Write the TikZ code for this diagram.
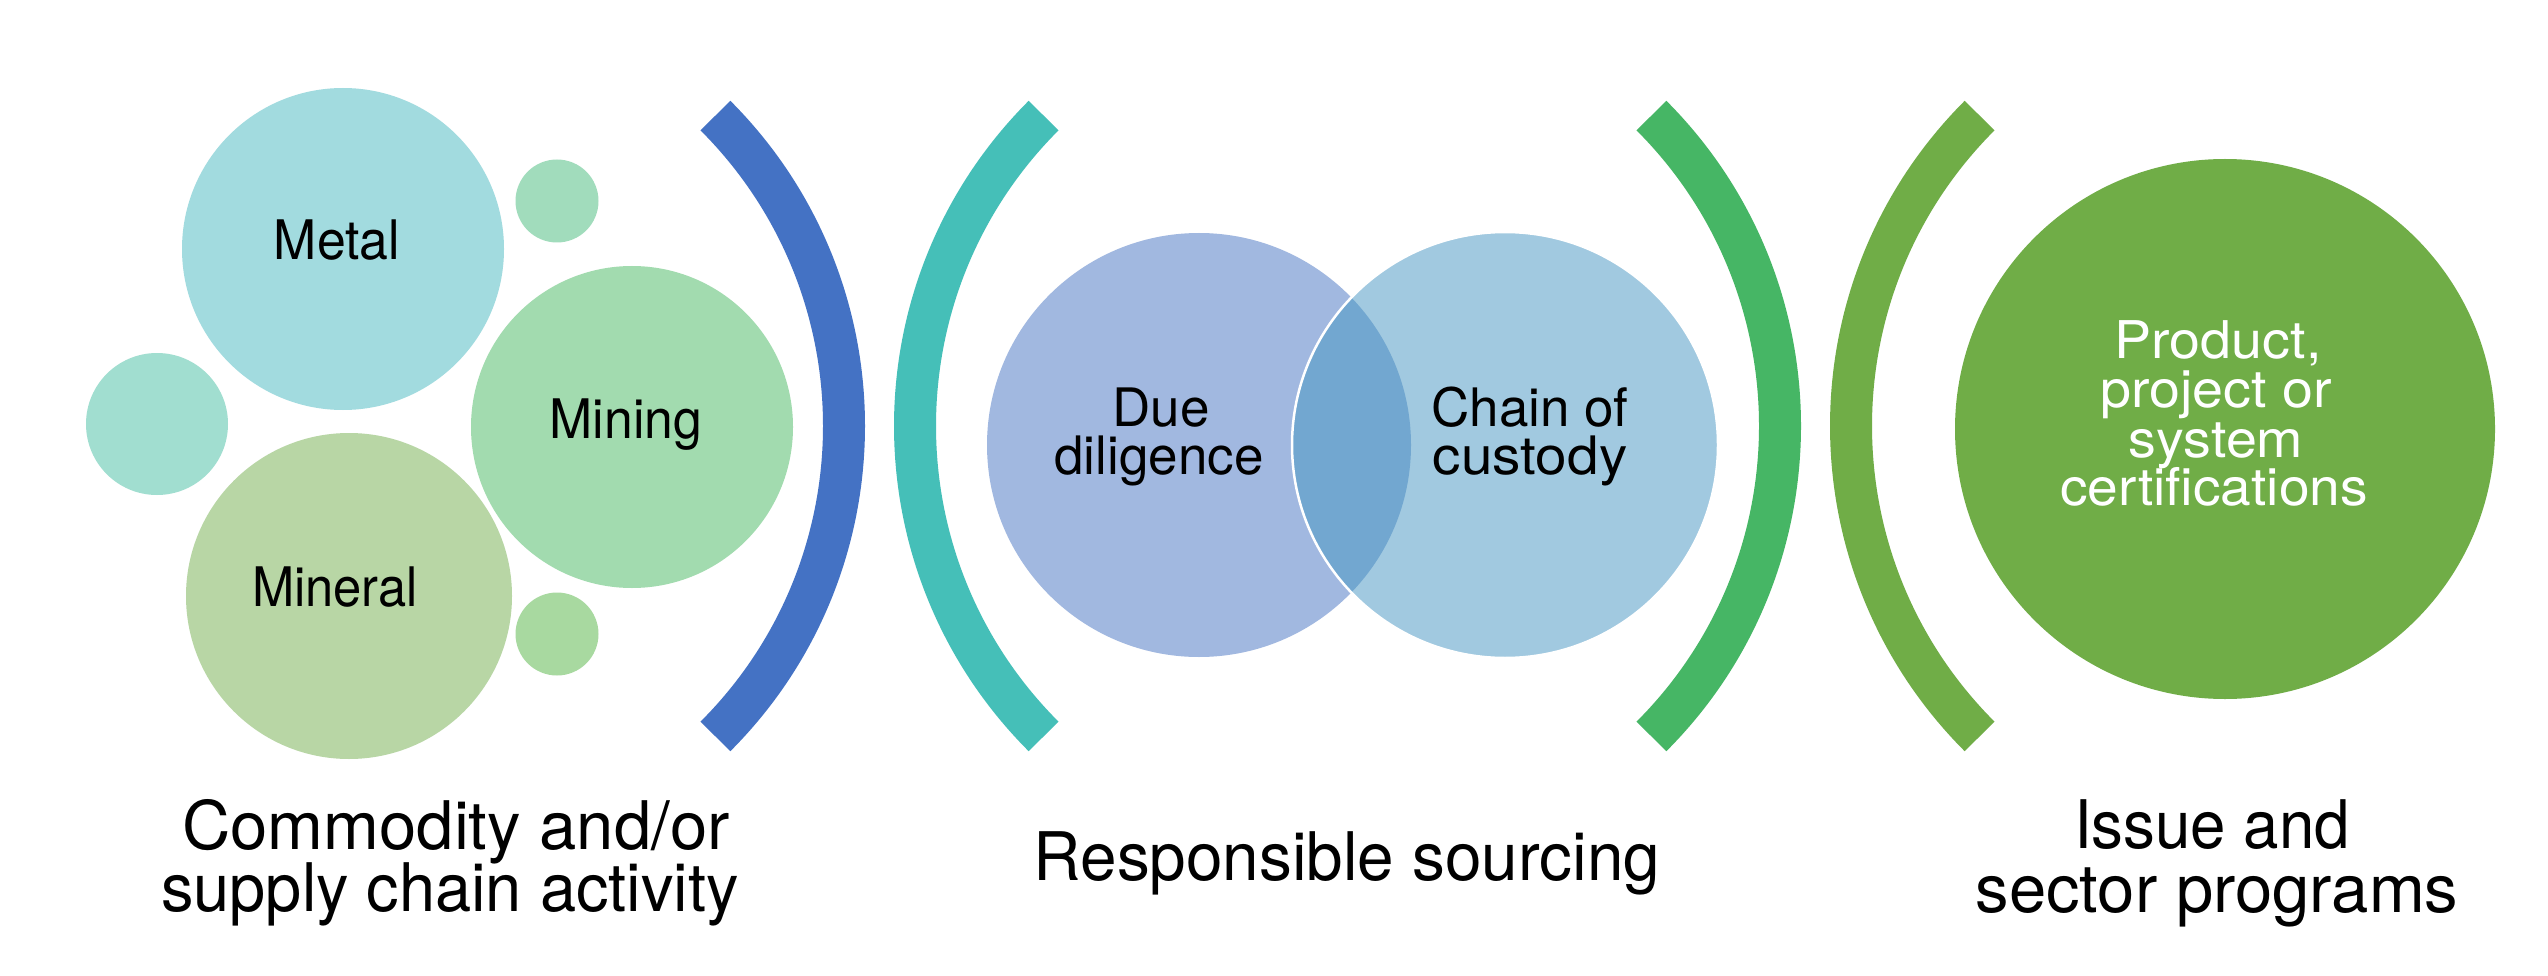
\documentclass[tikz,border=0pt]{standalone}
\usepackage{fontspec}
\setmainfont{TeX Gyre Heros}
\usepackage{graphicx}
\definecolor{cMetal}{HTML}{A2DBDF}
\definecolor{cMining}{HTML}{A2DBAF}
\definecolor{cMineral}{HTML}{B8D6A5}
\definecolor{cSmallL}{HTML}{A1DED0}
\definecolor{cSmallT}{HTML}{A1DCBC}
\definecolor{cSmallB}{HTML}{A8D9A0}
\definecolor{cBlue}{HTML}{4472C4}
\definecolor{cTeal}{HTML}{45BFB8}
\definecolor{cGreen}{HTML}{46B665}
\definecolor{cOlive}{HTML}{70AD47}
\definecolor{cDue}{HTML}{A1B8E0}
\definecolor{cChain}{HTML}{A1C9E0}
\definecolor{cLens}{HTML}{72A7D0}
\begin{document}
\begin{tikzpicture}[x=1pt,y=-1pt,
  bubble/.style={circle, inner sep=0pt, draw=none},
  bracketarc/.style={line width=42pt, line cap=butt},
  innerlbl/.style={font=\fontsize{54.5}{60}\selectfont, inner sep=0pt, anchor=base, text=black},
  vennlbl/.style={font=\fontsize{53}{58}\selectfont, inner sep=0pt, anchor=base, text=black},
  certlbl/.style={font=\fontsize{52}{58}\selectfont, inner sep=0pt, anchor=base, text=white},
  bottomlbl/.style={font=\fontsize{67}{72}\selectfont, inner sep=0pt, anchor=base, text=black}]
\useasboundingbox (0,0) rectangle (2548,976);
\fill[white] (0,0) rectangle (2548,976);

% left cluster
\node[bubble, fill=cMetal, minimum size=322pt] (metal) at (343,249) {};
\node[bubble, fill=cMining, minimum size=322pt] (mining) at (632,427) {};
\node[bubble, fill=cMineral, minimum size=326pt] (mineral) at (349,596) {};
\node[bubble, fill=cSmallL, minimum size=142pt] (smallL) at (157,424) {};
\node[bubble, fill=cSmallT, minimum size=83pt] (smallT) at (557,201) {};
\node[bubble, fill=cSmallB, minimum size=83pt] (smallB) at (557,634) {};

\node[innerlbl] (tmetal) at (337,260) {\scalebox{0.95}[1]{Metal}};
\node[innerlbl] (tmining) at (626,438) {\scalebox{0.95}[1]{Mining}};
\node[innerlbl] (tmineral) at (335,606) {\scalebox{0.93}[1]{Mineral}};

% brackets
\draw[bracketarc, cBlue] (405,426) ++(-45:439) arc[start angle=-45, end angle=45, radius=439];
\draw[bracketarc, cTeal] (1354,426) ++(135:439) arc[start angle=135, end angle=225, radius=439];
\draw[bracketarc, cGreen] (1341,426) ++(-45:439) arc[start angle=-45, end angle=45, radius=439];
\draw[bracketarc, cOlive] (2290,426) ++(135:439) arc[start angle=135, end angle=225, radius=439];

% venn
\node[bubble, fill=cDue, minimum size=424pt] (due) at (1199,445) {};
\node[bubble, fill=cChain, minimum size=426pt] (chain) at (1505,445) {};
\begin{scope}
  \clip (1505,445) circle[radius=213];
  \fill[cLens] (1199,445) circle[radius=212];
\end{scope}
\draw[white, line width=2.5pt] (1505,445) circle[radius=213];

\node[vennlbl] (tdue1) at (1161,426) {Due};
\node[vennlbl] (tdue2) at (1159,474) {diligence};
\node[vennlbl] (tchain1) at (1530,426) {Chain of};
\node[vennlbl] (tchain2) at (1530,474) {\scalebox{1.07}[1]{custody}};

% right circle
\node[bubble, fill=cOlive, minimum size=540pt] (cert) at (2225,429) {};
\node[certlbl] (tcert1) at (2218,358) {\scalebox{1.07}[1]{Product,}};
\node[certlbl] (tcert2) at (2216,407) {\scalebox{1.07}[1]{project or}};
\node[certlbl] (tcert3) at (2216,457) {\scalebox{1.07}[1]{system}};
\node[certlbl] (tcert4) at (2214,505) {\scalebox{1.06}[1]{certifications}};

% bottom labels
\node[bottomlbl] (tcom1) at (456,849) {Commodity and/or};
\node[bottomlbl] (tcom2) at (450,911) {\scalebox{0.97}[1]{supply chain activity}};
\node[bottomlbl] (tresp) at (1347,880) {\scalebox{0.98}[1]{Responsible sourcing}};
\node[bottomlbl] (tiss1) at (2212,848) {\scalebox{0.95}[1]{Issue and}};
\node[bottomlbl] (tiss2) at (2217,912) {sector programs};
\end{tikzpicture}
\end{document}
